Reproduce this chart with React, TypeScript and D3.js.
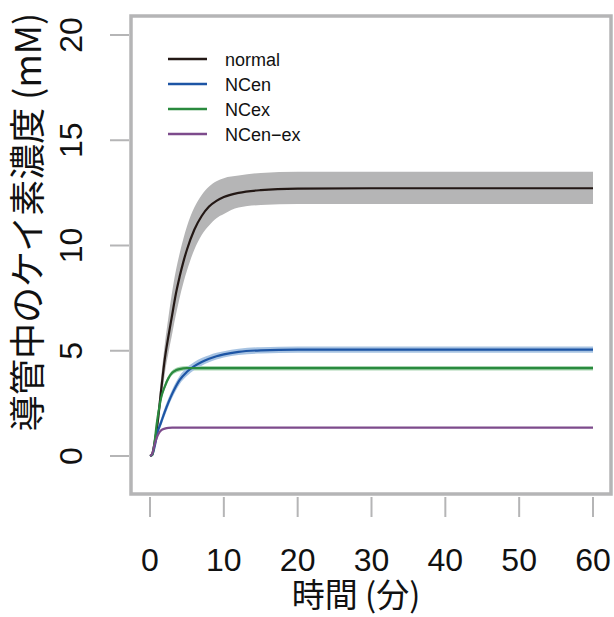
import React from "react";
import * as d3 from "d3";

// ---- data ----
const normalT = [0, 0.3, 0.6, 1.0, 1.5, 2.0, 2.5, 3.0, 3.5, 4.0, 4.5, 5.0, 6.0, 7.0, 8.0, 9.0, 10, 12, 15, 20, 30, 40, 50, 60];
const normalV = [0, 0.1, 0.6, 1.5, 3.1, 4.6, 5.7, 6.7, 7.7, 8.5, 9.2, 9.8, 10.75, 11.4, 11.85, 12.12, 12.3, 12.5, 12.63, 12.7, 12.72, 12.72, 12.72, 12.72];
const normalHi = [0, 0.15, 0.8, 1.9, 3.7, 5.3, 6.6, 7.8, 8.8, 9.6, 10.3, 10.9, 11.8, 12.4, 12.8, 13.05, 13.2, 13.32, 13.45, 13.5, 13.5, 13.5, 13.5, 13.5];
const normalLo = [0, 0.05, 0.4, 1.1, 2.5, 3.9, 4.9, 5.8, 6.7, 7.5, 8.2, 8.8, 9.8, 10.5, 10.95, 11.3, 11.5, 11.8, 11.92, 11.97, 11.97, 11.97, 11.97, 11.97];

const ncenT = [0, 0.3, 0.6, 1.0, 1.5, 2.0, 2.5, 3.0, 3.5, 4.0, 5.0, 6.0, 7.0, 8.0, 9.0, 10, 12, 15, 20, 30, 40, 50, 60];
const ncenV = [0, 0.05, 0.4, 1.1, 1.6, 2.1, 2.55, 2.95, 3.3, 3.6, 4.0, 4.27, 4.47, 4.62, 4.74, 4.83, 4.95, 5.02, 5.05, 5.05, 5.05, 5.05, 5.05];
const ncenHi = [0, 0.08, 0.5, 1.25, 1.78, 2.3, 2.75, 3.15, 3.5, 3.8, 4.2, 4.46, 4.65, 4.79, 4.9, 4.98, 5.1, 5.17, 5.2, 5.2, 5.2, 5.2, 5.2];
const ncenLo = [0, 0.02, 0.3, 0.95, 1.42, 1.9, 2.35, 2.75, 3.1, 3.4, 3.8, 4.08, 4.29, 4.45, 4.58, 4.68, 4.8, 4.87, 4.9, 4.9, 4.9, 4.9, 4.9];

const ncexT = [0, 0.3, 0.6, 0.9, 1.2, 1.5, 2.0, 2.5, 3.0, 3.5, 4.0, 5.0, 10, 20, 30, 40, 50, 60];
const ncexV = [0, 0.05, 0.6, 1.5, 2.2, 2.75, 3.3, 3.7, 3.95, 4.07, 4.13, 4.17, 4.17, 4.17, 4.17, 4.17, 4.17, 4.17];
const ncexHi = [0, 0.08, 0.7, 1.62, 2.33, 2.88, 3.43, 3.82, 4.06, 4.18, 4.24, 4.28, 4.28, 4.28, 4.28, 4.28, 4.28, 4.28];
const ncexLo = [0, 0.02, 0.5, 1.38, 2.07, 2.62, 3.17, 3.58, 3.84, 3.96, 4.02, 4.06, 4.06, 4.06, 4.06, 4.06, 4.06, 4.06];

const ncenexT = [0, 0.3, 0.6, 0.9, 1.2, 1.5, 2.0, 2.5, 3.0, 10, 20, 30, 40, 50, 60];
const ncenexV = [0, 0.1, 0.5, 0.85, 1.08, 1.22, 1.3, 1.34, 1.35, 1.35, 1.35, 1.35, 1.35, 1.35, 1.35];

const xTicks = [0, 10, 20, 30, 40, 50, 60];
const yTicks = [0, 5, 10, 15, 20];
const legendLabels = ["normal", "NCen", "NCex", "NCen\u2212ex"];
const xTitle = "時間 (分)";
const yTitle = "導管中のケイ素濃度 (mM)";

const C_BLACK = "#231815";
const C_BLUE = "#1d55a5";
const C_GREEN = "#2a8a3e";
const C_PURPLE = "#7d4b8c";
const C_AXIS = "#b5b5b6";

export default function App() {
  const W = 614, H = 617;
  const x = d3.scaleLinear().domain([0, 60]).range([150, 593]);
  const y = d3.scaleLinear().domain([0, 20]).range([456, 35]);

  const line = (ts: number[], vs: number[]) =>
    d3.line<number>().x((_, i) => x(ts[i])).y((v) => y(v)).curve(d3.curveMonotoneX)(vs) || "";
  const area = (ts: number[], lo: number[], hi: number[]) =>
    d3.area<number>().x((_, i) => x(ts[i])).y0((_, i) => y(lo[i])).y1((_, i) => y(hi[i])).curve(d3.curveMonotoneX)(ts) || "";

  const series = [
    { t: normalT, v: normalV, c: C_BLACK },
    { t: ncenT, v: ncenV, c: C_BLUE },
    { t: ncexT, v: ncexV, c: C_GREEN },
    { t: ncenexT, v: ncenexV, c: C_PURPLE },
  ];
  const legendColors = [C_BLACK, C_BLUE, C_GREEN, C_PURPLE];
  const font = "'Liberation Sans', Arial, Helvetica, sans-serif";
  const cjk = "'Noto Sans CJK JP', 'Noto Sans', sans-serif";

  return (
    <svg width={W} height={H} style={{ position: "absolute", left: 0, top: 0, background: "#fff" }}>
      {/* bands */}
      <path d={area(normalT, normalLo, normalHi)} fill="#b5b5b6" />
      <path d={area(ncexT, ncexLo, ncexHi)} fill="#a9d6b2" />
      <path d={area(ncenT, ncenLo, ncenHi)} fill="#a7c3e2" />
      {/* lines */}
      {series.map((s, i) => (
        <path key={i} d={line(s.t, s.v)} fill="none" stroke={s.c} strokeWidth={2.2} />
      ))}
      {/* box */}
      <rect x={131} y={16} width={480} height={478} fill="none" stroke={C_AXIS} strokeWidth={3.5} />
      {/* x axis */}
      {xTicks.map((t) => (
        <g key={t}>
          <line x1={x(t)} x2={x(t)} y1={497} y2={517} stroke={C_AXIS} strokeWidth={2} />
          <text x={x(t)} y={571} textAnchor="middle" fontFamily={font} fontSize={32} fill="#111">{t}</text>
        </g>
      ))}
      {/* y axis */}
      {yTicks.map((t) => (
        <g key={t}>
          <line x1={110} x2={129} y1={y(t)} y2={y(t)} stroke={C_AXIS} strokeWidth={2} />
          <text transform={`translate(82,${y(t)}) rotate(-90)`} textAnchor="middle" fontFamily={font} fontSize={32} fill="#111">{t}</text>
        </g>
      ))}
      {/* titles */}
      <text x={356} y={607} textAnchor="middle" fontFamily={cjk} fontSize={33} fill="#111">{xTitle}</text>
      <text transform={`translate(41,222) rotate(-90)`} textAnchor="middle" fontFamily={cjk} fontSize={36} fill="#111">{yTitle}</text>
      {/* legend */}
      {legendLabels.map((l, i) => {
        const ly = 59 + i * 25;
        return (
          <g key={l}>
            <line x1={168} x2={207} y1={ly} y2={ly} stroke={legendColors[i]} strokeWidth={2.5} />
            <text x={225} y={ly + 6.5} fontFamily={font} fontSize={18} fill="#111">{l}</text>
          </g>
        );
      })}
    </svg>
  );
}
